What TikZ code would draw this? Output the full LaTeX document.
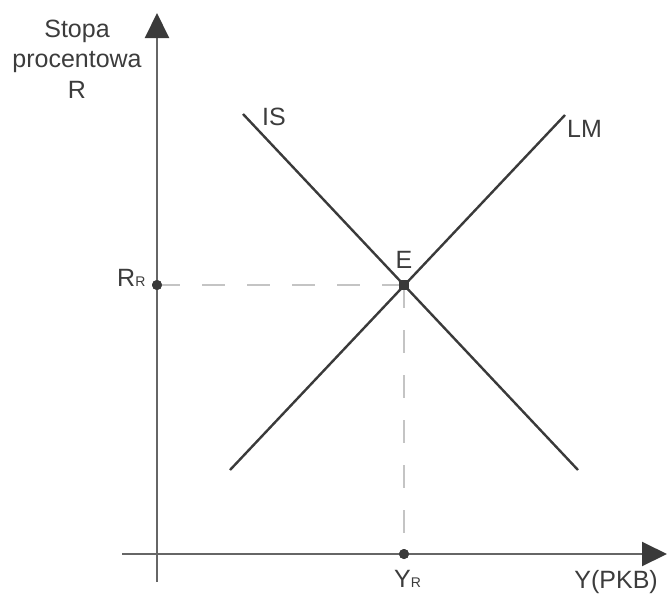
\documentclass[tikz,border=0pt]{standalone}
\usepackage{fontspec}
\setmainfont{Liberation Sans}
\usetikzlibrary{arrows.meta}
\definecolor{txt}{HTML}{3C3C3C}
\definecolor{axisc}{HTML}{666666}
\definecolor{curvec}{HTML}{3A3A3A}
\definecolor{dashc}{HTML}{C4C4C4}
\begin{document}
\begin{tikzpicture}[x=1pt,y=-1pt,
  lbl/.style={inner sep=0pt,anchor=base,text=txt,font=\fontsize{25}{29}\selectfont},
  axisline/.style={draw=axisc,line width=2pt,-{Triangle[length=25pt,width=24pt,fill=curvec,color=curvec]}},
  curve/.style={draw=curvec,line width=2.4pt},
  guide/.style={draw=dashc,line width=1.6pt,dash pattern=on 23pt off 22pt},
  dotc/.style={circle,fill=curvec,inner sep=0pt,minimum size=10pt},
  dotsq/.style={rectangle,fill=curvec,inner sep=0pt,minimum size=10pt}]
\useasboundingbox (0,0) rectangle (667,598);
% coordinates
\coordinate (ybot) at (157,582);
\coordinate (ytop) at (157,13);
\coordinate (xleft) at (122,554);
\coordinate (xright) at (667,554);
\coordinate (is1) at (243,114);
\coordinate (is2) at (578,470);
\coordinate (lm1) at (230,470);
\coordinate (lm2) at (565,115);
% dashed guides
\node[dotsq] (E) at (404,285) {};
\node[dotc] (RR) at (157,285) {};
\node[dotc] (YR) at (404,554) {};
\draw[guide] (RR.center) -- (E.center);
\draw[guide] (E.center) -- (YR.center);
% axes
\draw[axisline] (ybot) -- (ytop);
\draw[axisline] (xleft) -- (xright);
% curves
\draw[curve] (is1) -- (is2);
\draw[curve] (lm1) -- (lm2);
% redraw dots on top
\node[dotsq] at (E) {};
\node[dotc] at (RR) {};
\node[dotc] at (YR) {};
% labels
\node[lbl] (t1) at (77,37) {Stopa};
\node[lbl] (t2) at (77,67) {procentowa};
\node[lbl] (t3) at (77,98) {R};
\node[lbl,anchor=base west] (IS) at (262,125) {IS};
\node[lbl,anchor=base west] (LM) at (567,137) {LM};
\node[lbl] (El) at (404,268) {E};
\node[lbl,anchor=base west] (RRl) at (117,286) {R{\fontsize{14}{16}\selectfont R}};
\node[lbl,anchor=base west] (YRl) at (394,587) {Y{\fontsize{14}{16}\selectfont R}};
\node[lbl,anchor=base east] (Yl) at (658,588) {Y(PKB)};
\end{tikzpicture}
\end{document}
